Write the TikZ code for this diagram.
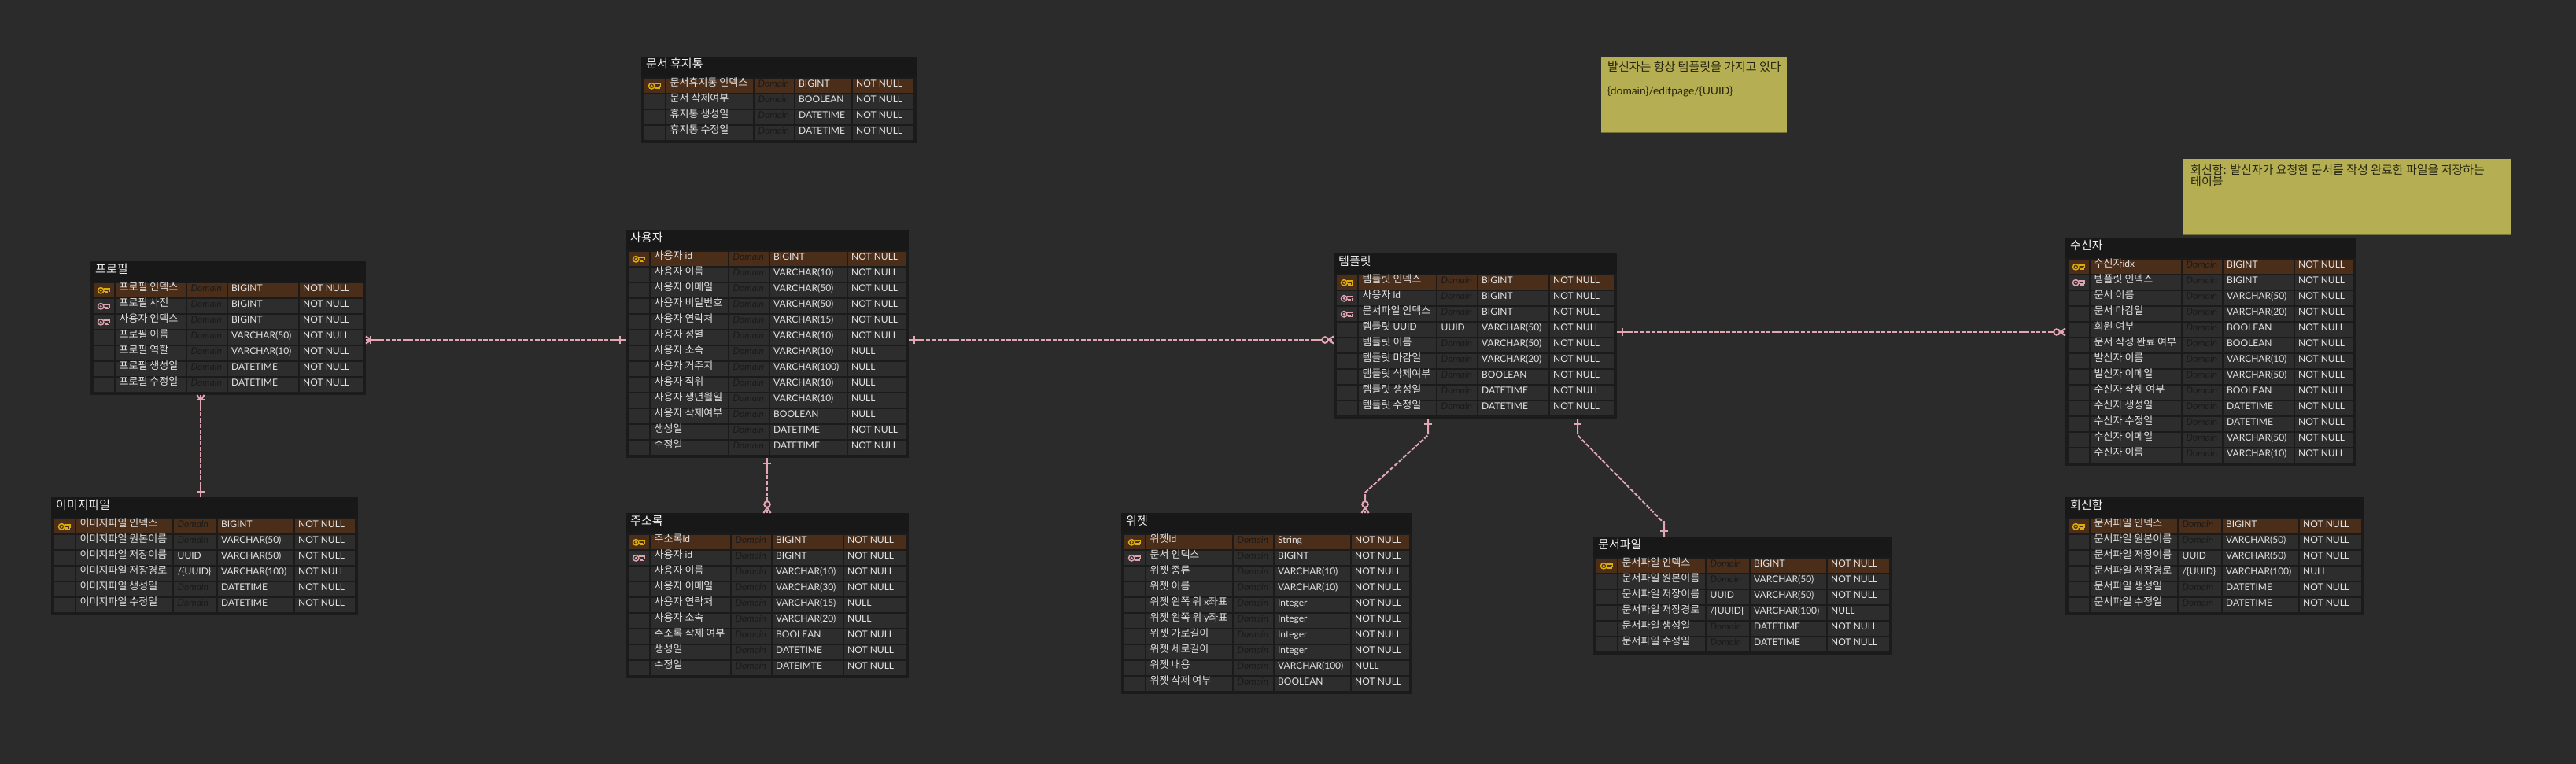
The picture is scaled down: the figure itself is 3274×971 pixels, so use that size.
\documentclass[tikz,border=0pt]{standalone}
\usepackage{fontspec}
\setmainfont{Lato}
\newfontfamily\kr{Noto Sans CJK KR}
\newcommand\la[1]{{\rmfamily\fontsize{12}{15}\selectfont #1}}
\definecolor{bgc}{HTML}{2B2B2B}
\definecolor{boxc}{HTML}{1B1B1B}
\definecolor{headc}{HTML}{181818}
\definecolor{cellc}{HTML}{2D2D2D}
\definecolor{pkc}{HTML}{4A2E1A}
\definecolor{txtc}{HTML}{E2E2E2}
\definecolor{domc}{HTML}{1A1A1A}
\definecolor{relc}{HTML}{E3A6B5}
\definecolor{goldc}{HTML}{DDAE0A}
\definecolor{fkc}{HTML}{DFA3AE}
\definecolor{notec}{HTML}{B5AE53}
\definecolor{noteedge}{HTML}{77723C}
\definecolor{notetxt}{HTML}{26250F}
\newcommand\keyshape[1]{%
  \draw[#1,line width=1.4pt]
    (-0.2,-2.5) -- (7.6,-2.5) -- (7.6,0.7) -- (6.2,0.7) -- (6.2,2.9) -- (4.6,2.9) -- (4.6,1) -- (3,1) -- (3,2.9) -- (1.4,2.9) -- (1.4,1) -- (-0.2,1);
  \draw[#1,line width=1.5pt] (-3.8,0) circle[radius=3.7];
  \fill[#1] (-3.8,0) circle[radius=1.6];
}
\tikzset{
  tablebox/.style={fill=boxc,draw=none,inner sep=0pt,outer sep=0pt,anchor=north west},
  titletext/.style={text=white!94!black,inner sep=0pt,anchor=base west,font={\fontsize{15}{17}\selectfont\kr}},
  nametext/.style={text=txtc,inner sep=0pt,anchor=base west,font={\fontsize{13}{15}\selectfont\kr}},
  valtext/.style={text=txtc,inner sep=0pt,anchor=base west,font={\fontsize{12}{15}\selectfont}},
  notebox/.style={fill=notec,draw=none,inner sep=0pt,outer sep=0pt,anchor=north west},
  notetext/.style={text=notetxt,inner sep=0pt,anchor=base west,font={\fontsize{15}{15.5}\selectfont\kr}},
  rel/.style={draw=relc,line width=2pt,dash pattern=on 5.5pt off 1.8pt},
  relsolid/.style={draw=relc,line width=2pt,solid},
  pkkey/.pic={\keyshape{goldc}},
  fkkey/.pic={\keyshape{fkc}},
  onebar/.pic={
    \draw[relsolid] (0,0) -- (20,0);
    \draw[relsolid] (7,-5) -- (7,5);
  },
  manybar/.pic={
    \draw[relsolid] (0,0) -- (20,0);
    \draw[relsolid] (0,-4.6) -- (7,0) -- (0,4.6);
    \draw[relsolid] (6,-5) -- (6,5);
  },
  zeromany/.pic={
    \draw[relsolid] (7,0) -- (20,0);
    \draw[relsolid] (0,-4.6) -- (7,0) -- (0,4.6);
    \draw[relsolid,fill=bgc] (11,0) circle[radius=3.8];
  },
}
\newcount\rownum
% id, title, left, top, right, rows, nameRight, domainRight, typeRight
\newcommand\tablestart[9]{%
  \def\tid{#1}\def\tL{#3}\def\tT{#4}\def\tR{#5}%
  \def\cA{#7}\def\cB{#8}\def\cC{#9}%
  \rownum=0
  \edef\tW{\the\numexpr#5-#3\relax}%
  \edef\tH{\the\numexpr30+#6*20\relax}%
  \node[tablebox,minimum width=\tW pt,minimum height=\tH pt] (#1) at (#3,#4) {};
  \fill[headc] (#3,#4) rectangle (#5,#4+26);
  \node[titletext] (#1-title) at (#3+6,#4+15) {#2};
}
\newcommand\dm{\color{domc}\itshape Domain}
% kind (p/f/n), name, domain, type, null
\newcommand\trow[5]{%
  \advance\rownum by 1
  \edef\ry{\the\numexpr\tT+28+(\rownum-1)*20\relax}%
  \if#1p\def\cf{pkc}\else\def\cf{cellc}\fi
  \fill[\cf] (\tL+4,\ry) rectangle (\tL+30,\ry+18);
  \fill[\cf] (\tL+32,\ry) rectangle (\cA,\ry+18);
  \fill[\cf] (\cA+2,\ry) rectangle (\cB,\ry+18);
  \fill[\cf] (\cB+2,\ry) rectangle (\cC,\ry+18);
  \fill[\cf] (\cC+2,\ry) rectangle (\tR-4,\ry+18);
  \if#1p\pic at (\tL+17,\ry+9.3) {pkkey};\fi
  \if#1f\pic at (\tL+17,\ry+9.3) {fkkey};\fi
  \node[nametext] (\tid-r\the\rownum-n) at (\tL+36.5,\ry+9.8) {#2};
  \node[valtext] (\tid-r\the\rownum-d) at (\cA+6.5,\ry+10.6) {#3};
  \node[valtext] (\tid-r\the\rownum-t) at (\cB+6,\ry+10.6) {#4};
  \node[valtext] (\tid-r\the\rownum-u) at (\cC+6,\ry+10.6) {#5};
}
\begin{document}
\begin{tikzpicture}[x=1pt,y=-1pt]
\useasboundingbox (0,0) rectangle (3274,971);
\fill[bgc] (0,0) rectangle (3274,971);

% profile
\tablestart{profile}{프로필}{115}{332}{465}{7}{236}{288}{379}
\trow{p}{프로필 인덱스}{\dm}{BIGINT}{NOT NULL}
\trow{f}{프로필 사진}{\dm}{BIGINT}{NOT NULL}
\trow{f}{사용자 인덱스}{\dm}{BIGINT}{NOT NULL}
\trow{n}{프로필 이름}{\dm}{VARCHAR(50)}{NOT NULL}
\trow{n}{프로필 역할}{\dm}{VARCHAR(10)}{NOT NULL}
\trow{n}{프로필 생성일}{\dm}{DATETIME}{NOT NULL}
\trow{n}{프로필 수정일}{\dm}{DATETIME}{NOT NULL}

% image file
\tablestart{image}{이미지파일}{65}{632}{455}{6}{219}{275}{373}
\trow{p}{이미지파일 인덱스}{\dm}{BIGINT}{NOT NULL}
\trow{n}{이미지파일 원본이름}{\dm}{VARCHAR(50)}{NOT NULL}
\trow{n}{이미지파일 저장이름}{UUID}{VARCHAR(50)}{NOT NULL}
\trow{n}{이미지파일 저장경로}{/\{UUID\}}{VARCHAR(100)}{NOT NULL}
\trow{n}{이미지파일 생성일}{\dm}{DATETIME}{NOT NULL}
\trow{n}{이미지파일 수정일}{\dm}{DATETIME}{NOT NULL}

% trash
\tablestart{trash}{문서 휴지통}{815}{72}{1165}{4}{957}{1009}{1082}
\trow{p}{문서휴지통 인덱스}{\dm}{BIGINT}{NOT NULL}
\trow{n}{문서 삭제여부}{\dm}{BOOLEAN}{NOT NULL}
\trow{n}{휴지통 생성일}{\dm}{DATETIME}{NOT NULL}
\trow{n}{휴지통 수정일}{\dm}{DATETIME}{NOT NULL}

% user
\tablestart{user}{사용자}{795}{292}{1155}{13}{925}{977}{1076}
\trow{p}{사용자 \la{id}}{\dm}{BIGINT}{NOT NULL}
\trow{n}{사용자 이름}{\dm}{VARCHAR(10)}{NOT NULL}
\trow{n}{사용자 이메일}{\dm}{VARCHAR(50)}{NOT NULL}
\trow{n}{사용자 비밀번호}{\dm}{VARCHAR(50)}{NOT NULL}
\trow{n}{사용자 연락처}{\dm}{VARCHAR(15)}{NOT NULL}
\trow{n}{사용자 성별}{\dm}{VARCHAR(10)}{NOT NULL}
\trow{n}{사용자 소속}{\dm}{VARCHAR(10)}{NULL}
\trow{n}{사용자 거주지}{\dm}{VARCHAR(100)}{NULL}
\trow{n}{사용자 직위}{\dm}{VARCHAR(10)}{NULL}
\trow{n}{사용자 생년월일}{\dm}{VARCHAR(10)}{NULL}
\trow{n}{사용자 삭제여부}{\dm}{BOOLEAN}{NULL}
\trow{n}{생성일}{\dm}{DATETIME}{NOT NULL}
\trow{n}{수정일}{\dm}{DATETIME}{NOT NULL}

% address book
\tablestart{addr}{주소록}{795}{652}{1155}{9}{928}{980}{1071}
\trow{p}{주소록\la{id}}{\dm}{BIGINT}{NOT NULL}
\trow{f}{사용자 \la{id}}{\dm}{BIGINT}{NOT NULL}
\trow{n}{사용자 이름}{\dm}{VARCHAR(10)}{NOT NULL}
\trow{n}{사용자 이메일}{\dm}{VARCHAR(30)}{NOT NULL}
\trow{n}{사용자 연락처}{\dm}{VARCHAR(15)}{NULL}
\trow{n}{사용자 소속}{\dm}{VARCHAR(20)}{NULL}
\trow{n}{주소록 삭제 여부}{\dm}{BOOLEAN}{NOT NULL}
\trow{n}{생성일}{\dm}{DATETIME}{NOT NULL}
\trow{n}{수정일}{\dm}{DATEIMTE}{NOT NULL}

% template
\tablestart{tmpl}{템플릿}{1695}{322}{2055}{9}{1825}{1877}{1968}
\trow{p}{템플릿 인덱스}{\dm}{BIGINT}{NOT NULL}
\trow{f}{사용자 \la{id}}{\dm}{BIGINT}{NOT NULL}
\trow{f}{문서파일 인덱스}{\dm}{BIGINT}{NOT NULL}
\trow{n}{템플릿 \la{UUID}}{UUID}{VARCHAR(50)}{NOT NULL}
\trow{n}{템플릿 이름}{\dm}{VARCHAR(50)}{NOT NULL}
\trow{n}{템플릿 마감일}{\dm}{VARCHAR(20)}{NOT NULL}
\trow{n}{템플릿 삭제여부}{\dm}{BOOLEAN}{NOT NULL}
\trow{n}{템플릿 생성일}{\dm}{DATETIME}{NOT NULL}
\trow{n}{템플릿 수정일}{\dm}{DATETIME}{NOT NULL}

% widget
\tablestart{widget}{위젯}{1425}{652}{1795}{10}{1566}{1618}{1716}
\trow{p}{위젯\la{id}}{\dm}{String}{NOT NULL}
\trow{f}{문서 인덱스}{\dm}{BIGINT}{NOT NULL}
\trow{n}{위젯 종류}{\dm}{VARCHAR(10)}{NOT NULL}
\trow{n}{위젯 이름}{\dm}{VARCHAR(10)}{NOT NULL}
\trow{n}{위젯 왼쪽 위 \la{x}좌표}{\dm}{Integer}{NOT NULL}
\trow{n}{위젯 왼쪽 위 \la{y}좌표}{\dm}{Integer}{NOT NULL}
\trow{n}{위젯 가로길이}{\dm}{Integer}{NOT NULL}
\trow{n}{위젯 세로길이}{\dm}{Integer}{NOT NULL}
\trow{n}{위젯 내용}{\dm}{VARCHAR(100)}{NULL}
\trow{n}{위젯 삭제 여부}{\dm}{BOOLEAN}{NOT NULL}

% document file
\tablestart{docfile}{문서파일}{2025}{682}{2405}{6}{2167}{2223}{2321}
\trow{p}{문서파일 인덱스}{\dm}{BIGINT}{NOT NULL}
\trow{n}{문서파일 원본이름}{\dm}{VARCHAR(50)}{NOT NULL}
\trow{n}{문서파일 저장이름}{UUID}{VARCHAR(50)}{NOT NULL}
\trow{n}{문서파일 저장경로}{/\{UUID\}}{VARCHAR(100)}{NULL}
\trow{n}{문서파일 생성일}{\dm}{DATETIME}{NOT NULL}
\trow{n}{문서파일 수정일}{\dm}{DATETIME}{NOT NULL}

% receiver
\tablestart{recv}{수신자}{2625}{302}{2995}{13}{2772}{2824}{2915}
\trow{p}{수신자\la{idx}}{\dm}{BIGINT}{NOT NULL}
\trow{f}{템플릿 인덱스}{\dm}{BIGINT}{NOT NULL}
\trow{n}{문서 이름}{\dm}{VARCHAR(50)}{NOT NULL}
\trow{n}{문서 마감일}{\dm}{VARCHAR(20)}{NOT NULL}
\trow{n}{회원 여부}{\dm}{BOOLEAN}{NOT NULL}
\trow{n}{문서 작성 완료 여부}{\dm}{BOOLEAN}{NOT NULL}
\trow{n}{발신자 이름}{\dm}{VARCHAR(10)}{NOT NULL}
\trow{n}{발신자 이메일}{\dm}{VARCHAR(50)}{NOT NULL}
\trow{n}{수신자 삭제 여부}{\dm}{BOOLEAN}{NOT NULL}
\trow{n}{수신자 생성일}{\dm}{DATETIME}{NOT NULL}
\trow{n}{수신자 수정일}{\dm}{DATETIME}{NOT NULL}
\trow{n}{수신자 이메일}{\dm}{VARCHAR(50)}{NOT NULL}
\trow{n}{수신자 이름}{\dm}{VARCHAR(10)}{NOT NULL}

% reply box
\tablestart{reply}{회신함}{2625}{632}{3005}{6}{2767}{2823}{2921}
\trow{p}{문서파일 인덱스}{\dm}{BIGINT}{NOT NULL}
\trow{n}{문서파일 원본이름}{\dm}{VARCHAR(50)}{NOT NULL}
\trow{n}{문서파일 저장이름}{UUID}{VARCHAR(50)}{NOT NULL}
\trow{n}{문서파일 저장경로}{/\{UUID\}}{VARCHAR(100)}{NULL}
\trow{n}{문서파일 생성일}{\dm}{DATETIME}{NOT NULL}
\trow{n}{문서파일 수정일}{\dm}{DATETIME}{NOT NULL}

% notes
\fill[noteedge] (2035,73) rectangle (2271,169);
\node[notebox,minimum width=236pt,minimum height=96pt] (note1) at (2035,72) {};
\node[notetext] (note1-a) at (2043,91) {발신자는 항상 템플릿을 가지고 있다};
\node[notetext,font={\fontsize{13.8}{15.5}\selectfont}] (note1-b) at (2043,121) {\{domain\}/editpage/\{UUID\}};
\fill[noteedge] (2775,203) rectangle (3191,299);
\node[notebox,minimum width=416pt,minimum height=96pt] (note2) at (2775,202) {};
\node[notetext] (note2-a) at (2784,221) {회신함: 발신자가 요청한 문서를 작성 완료한 파일을 저장하는};
\node[notetext] (note2-b) at (2784,236.5) {테이블};

% connectors
\coordinate (c5a) at ([xshift=-60pt,yshift=-21pt]tmpl.south);
\coordinate (c5b) at ([xshift=125pt,yshift=26pt]widget.north);
\coordinate (c6a) at ([xshift=130pt,yshift=-21pt]tmpl.south);
\coordinate (c6b) at ([xshift=-100pt,yshift=17pt]docfile.north);

\draw[rel] ([yshift=5pt]user.west) -- ([yshift=-15pt]profile.east);
\pic[rotate=180] at ([yshift=5pt]user.west) {onebar};
\pic at ([yshift=-15pt]profile.east) {manybar};

\draw[rel] ([xshift=-35pt]profile.south) -- ([xshift=-5pt]image.north);
\pic[rotate=-90] at ([xshift=-35pt]profile.south) {manybar};
\pic[rotate=90] at ([xshift=-5pt]image.north) {onebar};

\draw[rel] ([yshift=5pt]user.east) -- ([yshift=-5pt]tmpl.west);
\pic at ([yshift=5pt]user.east) {onebar};
\pic[rotate=180] at ([yshift=-5pt]tmpl.west) {zeromany};

\draw[rel] (user.south) -- (addr.north);
\pic[rotate=-90] at (user.south) {onebar};
\pic[rotate=90] at (addr.north) {zeromany};

\draw[rel] ([xshift=-60pt]tmpl.south) -- (c5a) -- (c5b) -- ([xshift=125pt]widget.north);
\pic[rotate=-90] at ([xshift=-60pt]tmpl.south) {onebar};
\pic[rotate=90] at ([xshift=125pt]widget.north) {zeromany};

\draw[rel] ([xshift=130pt]tmpl.south) -- (c6a) -- (c6b) -- ([xshift=-100pt]docfile.north);
\pic[rotate=-90] at ([xshift=130pt]tmpl.south) {onebar};
\pic[rotate=90] at ([xshift=-100pt]docfile.north) {onebar};

\draw[rel] ([yshift=5pt]tmpl.east) -- ([yshift=25pt]recv.west);
\pic at ([yshift=5pt]tmpl.east) {onebar};
\pic[rotate=180] at ([yshift=25pt]recv.west) {zeromany};
\end{tikzpicture}
\end{document}
